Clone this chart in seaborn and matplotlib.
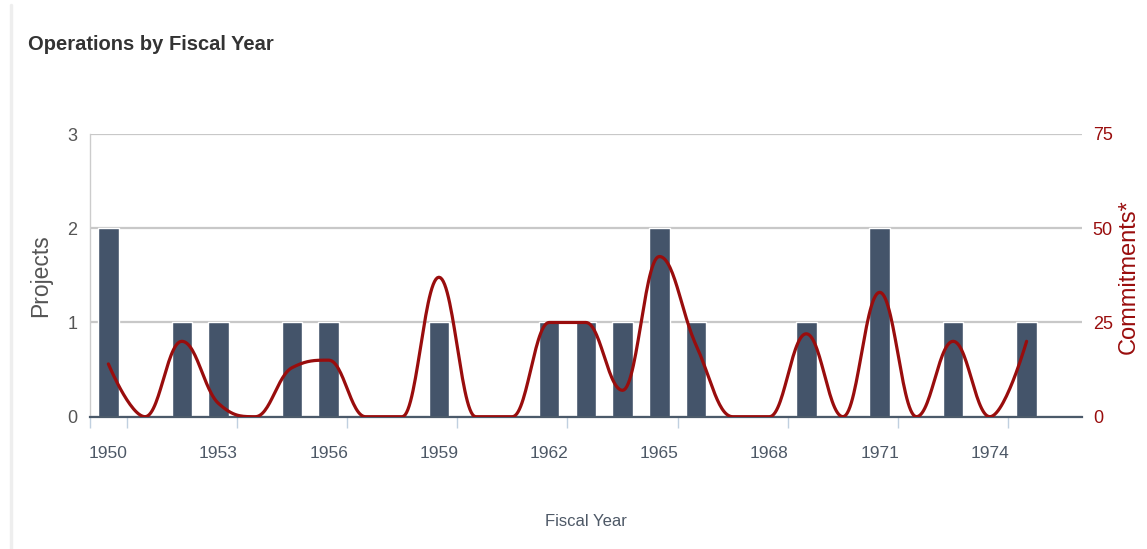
import numpy as np
import pandas as pd
import seaborn as sns
import matplotlib.pyplot as plt
from matplotlib.lines import Line2D

years = list(range(1950, 1977))
projects = [2, 0, 1, 1, 0, 1, 1, 0, 0, 1, 0, 0, 1, 1, 1, 2, 1, 0, 0, 1, 0, 2, 0, 1, 0, 1, 0]
commit_years = list(range(1950, 1976))
commitments = [14, 0, 20, 3.5, 0, 13, 15, 0, 0, 37, 0, 0, 25, 25, 7, 42.5, 19, 0, 0, 22, 0, 33, 0, 20, 0, 20]
label_years = list(range(1950, 1975, 3))

BAR = "#44546A"
RED = "#990D0D"
GREY = "#555555"


def spline(xs, ys, smoothing=1.5, steps=30):
    # bezier control points built the same way as a highcharts spline
    n = len(xs)
    left = [(x, y) for x, y in zip(xs, ys)]
    right = list(left)
    for i in range(1, n - 1):
        x, y = xs[i], ys[i]
        lx, ly, nx, ny = xs[i - 1], ys[i - 1], xs[i + 1], ys[i + 1]
        d = smoothing + 1
        lcx, lcy = (smoothing * x + lx) / d, (smoothing * y + ly) / d
        rcx, rcy = (smoothing * x + nx) / d, (smoothing * y + ny) / d
        corr = (rcy - lcy) * (rcx - x) / (rcx - lcx) + y - rcy
        lcy += corr
        rcy += corr
        if lcy > max(ly, y):
            lcy = max(ly, y); rcy = 2 * y - lcy
        elif lcy < min(ly, y):
            lcy = min(ly, y); rcy = 2 * y - lcy
        if rcy > max(ny, y):
            rcy = max(ny, y); lcy = 2 * y - rcy
        elif rcy < min(ny, y):
            rcy = min(ny, y); lcy = 2 * y - rcy
        left[i] = (lcx, lcy)
        right[i] = (rcx, rcy)
    t = np.linspace(0, 1, steps)[:, None]
    pts = []
    for i in range(1, n):
        p0 = np.array([xs[i - 1], ys[i - 1]])
        p1 = np.array(right[i - 1])
        p2 = np.array(left[i])
        p3 = np.array([xs[i], ys[i]])
        seg = ((1 - t) ** 3) * p0 + 3 * ((1 - t) ** 2) * t * p1 + 3 * (1 - t) * t ** 2 * p2 + t ** 3 * p3
        pts.append(seg if i == 1 else seg[1:])
    pts = np.vstack(pts)
    return pts[:, 0], pts[:, 1]


sns.set_theme(style="white")
plt.rcParams["font.family"] = ["Liberation Sans", "DejaVu Sans"]

fig = plt.figure(figsize=(11.47, 5.49), dpi=100)
ax = fig.add_axes([90 / 1147, 1 - 416.7 / 549, (1081.7 - 90) / 1147, (416.7 - 134) / 549])

df = pd.DataFrame({"year": years, "projects": projects})
sns.barplot(data=df, x="year", y="projects", native_scale=True, width=0.56,
            color=BAR, saturation=1, errorbar=None, ax=ax, zorder=2)

ax.set_xlim(1949.5, 1976.5)
ax.set_ylim(0, 3)
ax.set_yticks([0, 1, 2, 3])
ax.set_xticks(label_years)
ax.set_xticklabels([str(y) for y in label_years])
ax.set_xticks([1949.5] + [y + 0.5 for y in label_years], minor=True)
ax.tick_params(axis="x", which="major", length=0, pad=21, labelsize=12.5, labelcolor="#4D5866")
ax.tick_params(axis="x", which="minor", length=8, width=1, color="#C0D0E0", direction="out", bottom=True)
ax.tick_params(axis="y", length=0, pad=9, labelsize=13, labelcolor=GREY)
ax.yaxis.grid(True, color="#C8C8C8", lw=1.6, zorder=0)
ax.xaxis.grid(False)
ax.set_axisbelow(True)
for s in ["top", "right"]:
    ax.spines[s].set_visible(False)
ax.spines["left"].set_color("#CCCCCC")
ax.spines["left"].set_linewidth(1)
ax.spines["bottom"].set_color("#4B5A6A")
ax.spines["bottom"].set_linewidth(1.6)
ax.set_xlabel("")
ax.set_ylabel("")

ax2 = ax.twinx()
lx, ly = spline(commit_years, commitments)
sns.lineplot(x=lx, y=ly, sort=False, estimator=None, color=RED, lw=2.3, ax=ax2)
ax2.set_ylim(0, 75)
ax2.set_yticks([0, 25, 50, 75])
ax2.tick_params(axis="y", length=0, pad=8, labelsize=13, labelcolor=RED)
ax2.grid(False)
for s in ax2.spines.values():
    s.set_visible(False)
ax2.set_ylabel("")

fig.text(28 / 1147, 1 - 45 / 549, "Operations by Fiscal Year", fontsize=14.5, fontweight="bold",
         color="#333333", ha="left", va="center")
fig.text(586 / 1147, 1 - 521 / 549, "Fiscal Year", fontsize=12, color="#4D5866", ha="center", va="center")
fig.text(41 / 1147, 1 - 276 / 549, "Projects", fontsize=16.5, color=GREY, rotation=90, ha="center", va="center")
fig.text(1129 / 1147, 1 - 277 / 549, "Commitments*", fontsize=17, color=RED, rotation=90, ha="center", va="center")
fig.add_artist(Line2D([11 / 1147, 11 / 1147], [0, 1 - 5 / 549], transform=fig.transFigure, color="#EEEEEE", lw=2.5))

fig.savefig("out.png", dpi=100)
